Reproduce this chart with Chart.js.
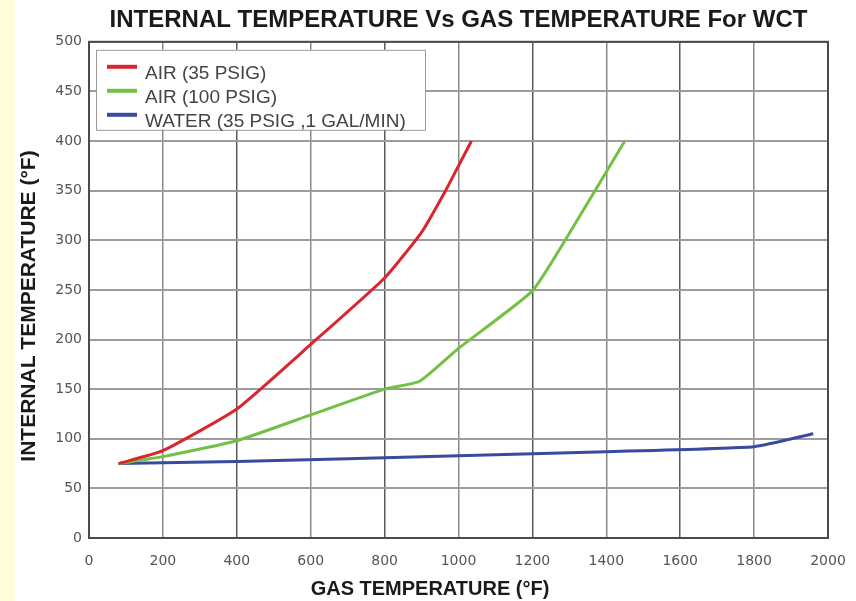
<!DOCTYPE html>
<html lang="en">
<head>
  <meta charset="UTF-8">
  <title>Internal Temperature Vs Gas Temperature</title>
  <script src="https://cdn.jsdelivr.net/npm/chart.js"></script>
  <style>
    html, body {
      margin: 0;
      padding: 0;
      background: #fff;
    }
    .chart-container {
      width: 856px;
      height: 601px;
    }
  </style>
</head>
<body>
  <div class="chart-container"><canvas id="wctChart"></canvas></div>

  <script>
    // Values (gas temp °F -> internal temp °F)
    const seriesLabels = ['AIR (35 PSIG)', 'AIR (100 PSIG)', 'WATER (35 PSIG ,1 GAL/MIN)'];

    const air35Gas = [80, 200, 400, 600, 800, 900, 965, 1000, 1035];
    const air35Int = [75, 88, 130, 195, 262, 308, 350, 375, 400];

    const air100Gas = [80, 200, 400, 600, 800, 895, 1000, 1200, 1300, 1450];
    const air100Int = [75, 82, 98, 124, 150, 158, 191, 249, 307, 400];

    const waterGas = [80, 400, 1000, 1400, 1800, 1960];
    const waterInt = [75, 77, 83, 87, 92, 105];

    const xTicks = [0, 200, 400, 600, 800, 1000, 1200, 1400, 1600, 1800, 2000];
    const yTicks = [0, 50, 100, 150, 200, 250, 300, 350, 400, 450, 500];

    const xTitle = 'GAS TEMPERATURE (°F)';
    const yTitle = 'INTERNAL TEMPERATURE (°F)';

    const colors = ['#d8262c', '#72c044', '#3a4a9e'];

    function toPoints(xs, ys) {
      return xs.map((x, i) => ({ x: x, y: ys[i] }));
    }

    // page background with the yellow strip on the left
    const backdrop = {
      id: 'backdrop',
      beforeDraw(chart) {
        const ctx = chart.ctx;
        ctx.save();
        ctx.fillStyle = '#ffffff';
        ctx.fillRect(0, 0, chart.width, chart.height);
        ctx.fillStyle = '#fffdd9';
        ctx.fillRect(0, 0, 15, chart.height);
        ctx.restore();
      }
    };

    // legend box drawn inside the plot, over the grid
    const boxLegend = {
      id: 'boxLegend',
      beforeDatasetsDraw(chart) {
        const ctx = chart.ctx;
        const area = chart.chartArea;
        const left = area.left + 7, top = area.top + 8;
        const w = 329, h = 80;
        ctx.save();
        ctx.fillStyle = '#ffffff';
        ctx.fillRect(left, top, w, h);
        ctx.strokeStyle = '#9a9a9a';
        ctx.lineWidth = 1;
        ctx.strokeRect(left + 0.5, top + 0.5, w, h);
        ctx.font = '19px "Liberation Sans", Arial, sans-serif';
        ctx.textBaseline = 'middle';
        chart.data.datasets.forEach((ds, i) => {
          const y = top + 17 + i * 24;
          ctx.strokeStyle = ds.borderColor;
          ctx.lineWidth = 4;
          ctx.beginPath();
          ctx.moveTo(left + 11, y);
          ctx.lineTo(left + 41, y);
          ctx.stroke();
          ctx.fillStyle = '#444';
          ctx.fillText(ds.label, left + 49, y + 7);
        });
        ctx.restore();
      }
    };

    // dark frame around the plot area, plus the two axis titles
    const frame = {
      id: 'frame',
      afterDraw(chart) {
        const { left, top, right, bottom } = chart.chartArea;
        const ctx = chart.ctx;
        ctx.save();
        ctx.strokeStyle = '#4a4a4a';
        ctx.lineWidth = 2;
        ctx.strokeRect(left, top, right - left, bottom - top);

        ctx.fillStyle = '#1a1a1a';
        ctx.font = 'bold 20px "Liberation Sans", Arial, sans-serif';
        ctx.textAlign = 'center';
        ctx.textBaseline = 'middle';
        ctx.fillText(xTitle, 430, 589);

        ctx.font = 'bold 21px "Liberation Sans", Arial, sans-serif';
        ctx.translate(29, 306);
        ctx.rotate(-Math.PI / 2);
        ctx.fillText(yTitle, 0, 0);
        ctx.restore();
      }
    };

    const ctx = document.getElementById('wctChart').getContext('2d');
    new Chart(ctx, {
      type: 'line',
      data: {
        datasets: [
          { label: seriesLabels[0], data: toPoints(air35Gas, air35Int) },
          { label: seriesLabels[1], data: toPoints(air100Gas, air100Int) },
          { label: seriesLabels[2], data: toPoints(waterGas, waterInt) }
        ].map((ds, i) => Object.assign(ds, {
          borderColor: colors[i],
          backgroundColor: colors[i],
          borderWidth: 3,
          pointRadius: 0,
          tension: 0.15,
          fill: false
        }))
      },
      options: {
        responsive: true,
        maintainAspectRatio: false,
        animation: false,
        layout: { padding: { left: 16, right: 28, top: 0, bottom: 0 } },
        plugins: {
          legend: { display: false },
          tooltip: { enabled: false },
          title: {
            display: true,
            fullSize: false,
            text: 'INTERNAL TEMPERATURE Vs GAS TEMPERATURE For WCT',
            color: '#1a1a1a',
            font: { family: '"Liberation Sans", Arial, sans-serif', size: 24, weight: 'bold', lineHeight: 1.2 },
            padding: { top: 6, bottom: 7 }
          }
        },
        scales: {
          x: {
            type: 'linear',
            min: 0,
            max: 2000,
            afterFit(scale) { scale.height = 63; },
            afterBuildTicks(scale) { scale.ticks = xTicks.map(v => ({ value: v })); },
            grid: {
              drawTicks: true,
              tickLength: 12,
              tickColor: 'rgba(0,0,0,0)',
              color: c => (c.tick && c.tick.value % 400 === 0) ? '#5a5a5a' : '#8a8a8a',
              lineWidth: 1.5
            },
            border: { display: false },
            ticks: {
              padding: 3,
              color: '#555',
              font: { family: '"DejaVu Sans", sans-serif', size: 14 },
              callback: v => String(v)
            }
          },
          y: {
            min: 0,
            max: 500,
            afterFit(scale) { scale.width = 73; },
            afterBuildTicks(scale) { scale.ticks = yTicks.map(v => ({ value: v })); },
            grid: {
              drawTicks: false,
              color: '#9c9c9c',
              lineWidth: 2
            },
            border: { display: false },
            ticks: {
              padding: 7,
              color: '#555',
              font: { family: '"DejaVu Sans", sans-serif', size: 14 },
              callback: v => String(v)
            }
          }
        }
      },
      plugins: [backdrop, boxLegend, frame]
    });
  </script>
</body>
</html>
